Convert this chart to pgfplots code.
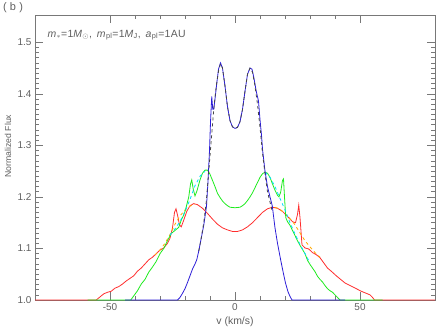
\documentclass[border=0pt]{standalone}
\usepackage{fontspec}
\setmainfont{Liberation Sans}
\usepackage{pgfplots}
\pgfplotsset{compat=1.18}
\usetikzlibrary{calc}

\definecolor{axgray}{RGB}{120,120,120}
\definecolor{labgray}{RGB}{95,95,95}
\definecolor{cblue}{RGB}{45,30,215}
\definecolor{cgreen}{RGB}{30,235,30}
\definecolor{cred}{RGB}{255,45,45}
\definecolor{corange}{RGB}{255,170,0}
\definecolor{ccyan}{RGB}{0,220,255}
\definecolor{cdash}{RGB}{70,70,70}

\newcommand{\lbl}{\fontsize{10}{12}\selectfont\color{labgray}}

\begin{document}
\begin{tikzpicture}
\begin{axis}[
  scale only axis, width=400bp, height=285bp,
  xmin=-80, xmax=80, ymin=1.0, ymax=1.553,
  axis line style={axgray, line width=0.6bp},
  every tick/.style={axgray, line width=0.6bp},
  tick align=inside,
  major tick length=8bp, minor tick length=4bp,
  xtick={-50,0,50}, minor x tick num=4,
  ytick={1.0,1.1,1.2,1.3,1.4,1.5}, minor y tick num=9,
  yticklabel style={/pgf/number format/.cd,fixed,fixed zerofill,precision=1},
  tick label style={font=\lbl},
  /pgf/number format/assume math mode=true,
  every axis plot/.append style={line width=0.8bp},
]
% red profile
\addplot[cred] coordinates {
(-80,1.0) (-55.5,1.0) (-54,1.006) (-52.5,1.012) (-51,1.015) (-49.5,1.017) (-48,1.023)
(-46.5,1.026) (-45,1.031) (-43.5,1.037) (-42,1.042) (-40.5,1.047) (-39,1.056) (-37.5,1.062)
(-36,1.07) (-34.5,1.078) (-33,1.083) (-31.5,1.09) (-30,1.097) (-28.5,1.101) (-27,1.11)
(-26,1.12) (-25,1.14) (-24.2,1.17) (-23.6,1.177) (-23,1.165) (-22.2,1.146) (-21.5,1.142)
(-20.5,1.155) (-19.3,1.172) (-18,1.183) (-16.5,1.187) (-15,1.185) (-13,1.178) (-11,1.168)
(-9,1.157) (-7,1.147) (-5,1.14) (-3,1.136) (-1,1.133) (0,1.133) (1,1.133) (3,1.136)
(5,1.142) (7,1.15) (9,1.16) (11,1.17) (13,1.177) (15,1.18) (17,1.178) (19,1.172)
(21,1.162) (23,1.152) (24.2,1.15) (25,1.166) (25.5,1.184) (26,1.16) (26.8,1.107)
(28,1.101) (29.5,1.099) (31,1.092) (32.5,1.088) (34,1.082) (35.5,1.072) (37,1.062)
(38.7,1.055) (40.5,1.047) (42,1.041) (44,1.033) (46.5,1.027) (48.5,1.022) (50.5,1.017)
(52.5,1.013) (54,1.01) (55,1.005) (55.8,1.0) (80,1.0)
};
% orange dashed
\addplot[corange, dashed] coordinates {
(-32,1.087) (-30,1.097) (-28,1.11) (-26,1.127) (-24,1.147) (-22,1.163) (-20,1.175) (-18,1.182) (-16,1.186)
};
\addplot[corange, dashed] coordinates {
(16,1.18) (18,1.176) (20,1.168) (22,1.158) (24,1.146) (26,1.13) (28,1.115) (30,1.103) (32,1.092) (34,1.083)
};
% green profile
\addplot[cgreen] coordinates {
(-59,1.0) (-41.7,1.0) (-40.5,1.008) (-39,1.018) (-37.5,1.031) (-36,1.04) (-34.5,1.054)
(-33,1.064) (-31.5,1.075) (-30,1.09) (-28.5,1.1) (-27,1.115) (-25.5,1.129) (-24,1.135)
(-22.5,1.141) (-21.5,1.155) (-20.5,1.165) (-19.8,1.175) (-18.5,1.2) (-17.8,1.225)
(-17.3,1.233) (-16.7,1.215) (-16,1.202) (-15.2,1.212) (-14,1.233) (-13,1.246) (-12,1.252)
(-11,1.252) (-10,1.244) (-9,1.232) (-8,1.22) (-7,1.207) (-6,1.199) (-5,1.192) (-4,1.187)
(-3,1.183) (-2,1.18) (0,1.179) (2,1.18) (3,1.183) (4,1.187) (5,1.193) (6,1.2) (7,1.208)
(8,1.218) (9,1.228) (10,1.238) (11,1.245) (12,1.248) (13,1.246) (14,1.238) (15,1.225)
(16,1.213) (17,1.203) (17.6,1.2) (18.3,1.21) (19,1.232) (19.4,1.235) (19.8,1.2) (20.3,1.16)
(21,1.152) (22,1.145) (23,1.135) (24,1.125) (25,1.115) (26,1.106) (27,1.098) (28,1.09)
(29,1.077) (30,1.069) (31,1.062) (32,1.055) (33,1.046) (34,1.04) (35,1.035) (36,1.028)
(37,1.022) (38,1.018) (39,1.015) (40,1.01) (41,1.005) (42,1.0) (59,1.0)
};
% cyan dashed
\addplot[ccyan, dashed] coordinates {
(-26,1.126) (-24,1.138) (-22,1.152) (-20,1.172) (-18,1.195) (-16,1.222) (-14,1.24) (-12,1.25)
};
\addplot[ccyan, dashed] coordinates {
(12,1.248) (14,1.238) (16,1.22) (18,1.197) (20,1.175) (22,1.15) (24,1.128) (26,1.108) (28,1.09) (30,1.072)
};
% blue profile
\addplot[cblue] coordinates {
(-44,1.0) (-23,1.0) (-22,1.005) (-21,1.013) (-20,1.022) (-19,1.034) (-18,1.047) (-17,1.06)
(-16,1.07) (-15.3,1.078) (-14.5,1.095) (-13.5,1.12) (-12.5,1.145) (-11.4,1.182) (-10.8,1.23)
(-10.2,1.29) (-9.8,1.345) (-9.3,1.395) (-8.9,1.37) (-8.5,1.37) (-8,1.39) (-7.3,1.42)
(-6.6,1.448) (-5.8,1.46) (-5,1.45) (-4,1.415) (-3,1.375) (-2,1.348) (-1,1.336) (0,1.333)
(1,1.335) (2,1.346) (3,1.37) (4,1.405) (5,1.438) (6,1.45) (6.8,1.448) (7.6,1.43) (8.5,1.405)
(9.4,1.386) (10,1.35) (10.6,1.32) (11,1.293) (12,1.25) (13,1.22) (14,1.2) (14.9,1.183)
(16,1.14) (17,1.11) (18.3,1.077) (19.3,1.053) (20.2,1.033) (21.2,1.016) (22,1.007)
(22.8,1.0) (44,1.0)
};
% black dashed
\addplot[cdash, dashed] coordinates {
(-14.5,1.095) (-13.5,1.12) (-12.5,1.15) (-11.5,1.19) (-10.5,1.25) (-9.5,1.31) (-8.5,1.37)
(-7.5,1.415) (-6.5,1.447) (-5.8,1.458) (-5,1.45) (-4,1.415) (-3,1.375) (-2,1.348)
(-1,1.336) (0,1.333) (1,1.335) (2,1.346) (3,1.37) (4,1.405) (5,1.438) (6,1.45) (7,1.442)
(8,1.415) (9,1.38) (10,1.335) (11,1.285) (12,1.245) (13,1.21) (14,1.19) (15,1.17)
};
\coordinate (ll) at (rel axis cs:0,0);
\coordinate (ur) at (rel axis cs:1,1);
\end{axis}
\node[font=\fontsize{10.5}{12}\selectfont\color{labgray}\addfontfeatures{LetterSpace=3}, anchor=west] at ($(ll|-ur)+(9bp,-20bp)$)
  {\textit{m}$_{\ast}$=1\textit{M}$_{\odot}$,\, \textit{m}\textsubscript{pl}=1\textit{M}\textsubscript{J},\, \textit{a}\textsubscript{pl}=1AU};
\node[font=\fontsize{11}{13}\selectfont\color{labgray}\addfontfeatures{LetterSpace=30}] at ($(ll|-ur)+(-22bp,7bp)$) {(b)};
\node[font=\fontsize{10.5}{12}\selectfont\color{labgray}] at ($(ll)!0.5!(ur|-ll)+(0,-22bp)$) {v (km/s)};
\node[font=\fontsize{8.7}{10}\selectfont\color{labgray}, rotate=90] at ($(ll|-ur)+(-27bp,-131bp)$) {Normalized Flux};
\pgfresetboundingbox
\path[use as bounding box] ($(ll)+(-35bp,-30bp)$) rectangle ($(ur)+(1bp,15bp)$);
\end{tikzpicture}
\end{document}
